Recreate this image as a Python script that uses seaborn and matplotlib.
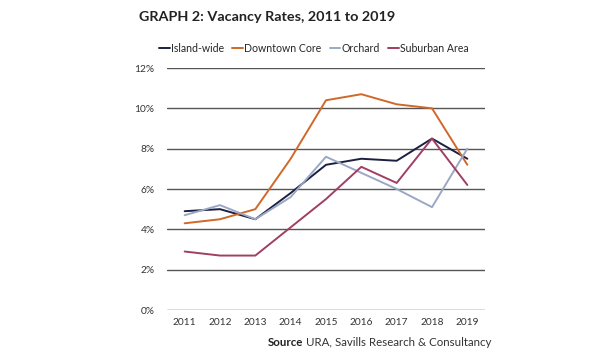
import matplotlib
matplotlib.use("Agg")
import matplotlib.pyplot as plt
import seaborn as sns
import pandas as pd
from matplotlib.ticker import FuncFormatter

years = [2011, 2012, 2013, 2014, 2015, 2016, 2017, 2018, 2019]
island_wide = [4.9, 5.0, 4.5, 5.8, 7.2, 7.5, 7.4, 8.5, 7.5]
downtown_core = [4.3, 4.5, 5.0, 7.5, 10.4, 10.7, 10.2, 10.0, 7.2]
orchard = [4.7, 5.2, 4.5, 5.6, 7.6, 6.8, 6.0, 5.1, 8.0]
suburban_area = [2.9, 2.7, 2.7, 4.1, 5.5, 7.1, 6.3, 8.5, 6.2]
series_names = ["Island-wide", "Downtown Core", "Orchard", "Suburban Area"]
y_ticks = [0, 2, 4, 6, 8, 10, 12]

df = pd.DataFrame({
    "Year": years * 4,
    "Rate": island_wide + downtown_core + orchard + suburban_area,
    "Series": sum([[n] * len(years) for n in series_names], []),
})
df["Pos"] = df["Year"].map({y: i for i, y in enumerate(years)})

sns.set_style("white")
plt.rcParams["font.family"] = ["Lato", "DejaVu Sans"]

palette = {"Island-wide": "#1b2040", "Downtown Core": "#d0682a",
           "Orchard": "#9aa8c6", "Suburban Area": "#a03f64"}

fig = plt.figure(figsize=(6, 3.6), dpi=100)
ax = fig.add_axes([167/600, 1 - 310/360, (485-167)/600, (310-68)/360])

sns.lineplot(data=df, x="Pos", y="Rate", hue="Series", palette=palette,
             hue_order=series_names, linewidth=1.4, ax=ax, legend=True)

ax.set_ylim(0, 12)
ax.set_yticks(y_ticks)
ax.yaxis.set_major_formatter(FuncFormatter(lambda v, p: f"{int(v)}%"))
ax.set_xlim(-0.5, len(years) - 0.5)
ax.set_xticks(range(len(years)))
ax.set_xticklabels([str(y) for y in years])
ax.grid(axis="y", color="#555555", linewidth=1.0)
ax.set_axisbelow(True)
for s in ax.spines.values():
    s.set_visible(False)
ax.tick_params(axis="both", length=0, labelsize=7.3, colors="#333333")
ax.tick_params(axis="y", pad=9)
ax.tick_params(axis="x", pad=6)
ax.set_xlabel("")
ax.set_ylabel("")

handles, labels = ax.get_legend_handles_labels()
ax.legend(handles, labels, loc="lower center", bbox_to_anchor=(0.462, 1.04),
          ncol=4, frameon=False, fontsize=7.6, handlelength=1.0,
          handletextpad=0.15, columnspacing=0.75, borderaxespad=0)

fig.text(139/600, 1 - 11/360, "GRAPH 2: Vacancy Rates, 2011 to 2019",
         fontsize=10.4, fontweight="bold", color="#222222", va="top", ha="left")

src = fig.text(268/600, 1 - 343/360, "Source", fontsize=8.3, fontweight="bold",
               color="#222222", ha="left", va="center")
fig.canvas.draw()
bb = src.get_window_extent(renderer=fig.canvas.get_renderer())
fig.text(bb.x1 / fig.bbox.width + 3/600, 1 - 343/360,
         "URA, Savills Research & Consultancy",
         fontsize=8.3, color="#333333", ha="left", va="center")

fig.savefig("out.png", dpi=100, facecolor="white")
